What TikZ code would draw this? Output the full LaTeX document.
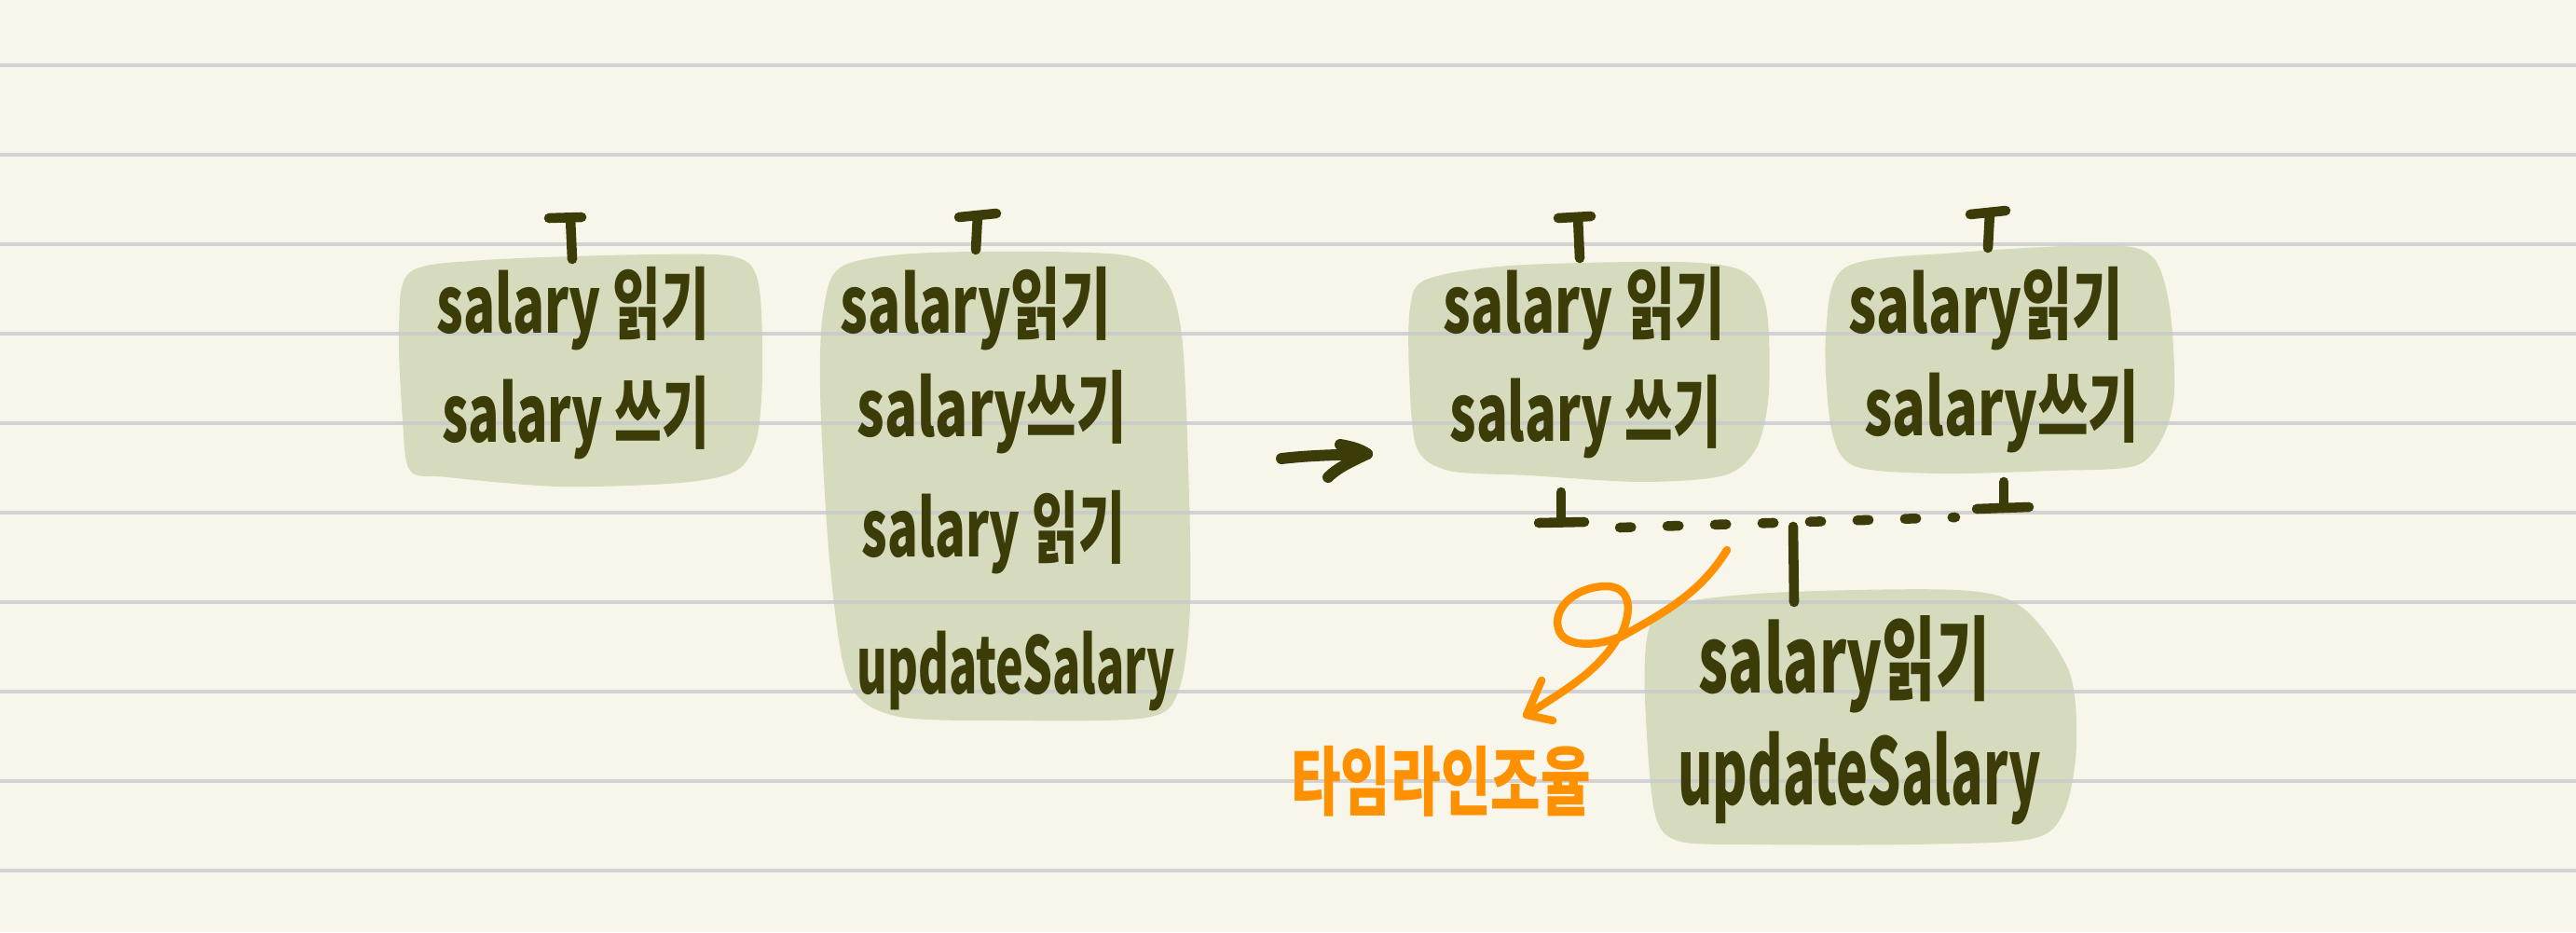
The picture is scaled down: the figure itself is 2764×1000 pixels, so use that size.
\documentclass[tikz,border=0pt]{standalone}
\usepackage{fontspec}
\usepackage{graphicx}
\setmainfont{Noto Sans CJK KR}
\definecolor{paper}{HTML}{F8F6EA}
\definecolor{rulecol}{HTML}{C7C7CB}
\definecolor{blob}{HTML}{D5DBBC}
\definecolor{ink}{HTML}{3C3C08}
\definecolor{hl}{HTML}{FF9100}
\newcommand\hw[2]{\resizebox{#1}{\height}{#2}}
\begin{document}
\begin{tikzpicture}[x=0.01cm,y=-0.01cm,
  blobfill/.style={fill=blob},
  ruleline/.style={draw=rulecol, line width=1.1pt, opacity=0.75},
  inkline/.style={draw=ink, line width=3pt, line cap=round, line join=round},
  hlline/.style={draw=hl, line width=2.4pt, line cap=round, line join=round},
  hwtext/.style={text=ink, inner sep=0pt, anchor=base, font=\bfseries\fontsize{24}{28}\selectfont},
  hwbig/.style={hwtext, font=\bfseries\fontsize{28}{32}\selectfont},
  hwnote/.style={text=hl, inner sep=0pt, font=\bfseries\fontsize{23}{27}\selectfont}]
\fill[paper] (0,0) rectangle (2764,1000);
\useasboundingbox (0,0) rectangle (2764,1000);

% blobs
\fill[blobfill] plot[smooth cycle, tension=0.5] coordinates {(440,292) (520,279) (700,273) (790,276) (814,305) (818,400) (812,470) (790,505) (730,518) (600,522) (480,512) (440,505) (432,450) (428,350)};
\fill[blobfill] plot[smooth cycle, tension=0.5] coordinates {(905,285) (1000,271) (1200,273) (1250,300) (1268,360) (1275,500) (1277,650) (1265,740) (1230,770) (1080,773) (960,768) (910,730) (890,600) (880,420) (884,330)};
\fill[blobfill] plot[smooth cycle, tension=0.5] coordinates {(1530,300) (1620,285) (1800,281) (1870,291) (1895,330) (1898,420) (1885,480) (1850,510) (1760,517) (1640,510) (1555,505) (1520,480) (1512,400) (1513,330)};
\fill[blobfill] plot[smooth cycle, tension=0.5] coordinates {(1980,287) (2100,271) (2260,263) (2310,276) (2328,330) (2333,420) (2320,470) (2290,500) (2200,505) (2080,508) (1990,500) (1965,460) (1959,360)};
\fill[blobfill] plot[smooth cycle, tension=0.5] coordinates {(1790,650) (1900,636) (2100,633) (2170,652) (2220,720) (2228,800) (2215,870) (2180,900) (2050,906) (1880,906) (1800,902) (1775,870) (1765,750) (1768,680)};

% ruled paper lines
\foreach \yy in {70,166,...,934} \draw[ruleline] (0,\yy) -- (2764,\yy);

% texts
\node[hwtext] (b1a) at (615,357) {\hw{2.93cm}{salary 읽기}};
\node[hwtext] (b1b) at (618,474) {\hw{2.87cm}{salary 쓰기}};
\node[hwtext] (b2a) at (1047,357) {\hw{2.90cm}{salary읽기}};
\node[hwtext] (b2b) at (1064,468) {\hw{2.89cm}{salary쓰기}};
\node[hwtext] (b2c) at (1066,597) {\hw{2.82cm}{salary 읽기}};
\node[hwtext] (b2d) at (1090,744) {\hw{3.41cm}{updateSalary}};
\node[hwtext] (b3a) at (1700,357) {\hw{3.02cm}{salary 읽기}};
\node[hwtext] (b3b) at (1701,473) {\hw{2.91cm}{salary 쓰기}};
\node[hwtext] (b4a) at (2131,357) {\hw{2.95cm}{salary읽기}};
\node[hwtext] (b4b) at (2148,467) {\hw{2.95cm}{salary쓰기}};
\node[hwbig] (b5a) at (1979,743) {\hw{3.12cm}{salary읽기}};
\node[hwbig] (b5b) at (1995,863) {\hw{3.89cm}{updateSalary}};
\node[hwnote] (note) at (1546,838) {\hw{3.21cm}{타임라인조율}};

% lifeline tops
\coordinate (t1l) at (589,234); \coordinate (t1r) at (624,233);
\coordinate (t1s) at (612,234); \coordinate (t1e) at (614,278);
\draw[inkline] (t1l) -- (t1r); \draw[inkline] (t1s) -- (t1e);
\coordinate (t2l) at (1029,233); \coordinate (t2r) at (1069,229);
\coordinate (t2s) at (1049,231); \coordinate (t2e) at (1047,268);
\draw[inkline] (t2l) -- (t2r); \draw[inkline] (t2s) -- (t2e);
\coordinate (t3l) at (1672,234); \coordinate (t3r) at (1707,232);
\coordinate (t3s) at (1693,233); \coordinate (t3e) at (1695,277);
\draw[inkline] (t3l) -- (t3r); \draw[inkline] (t3s) -- (t3e);
\coordinate (t4l) at (2114,230); \coordinate (t4r) at (2152,226);
\coordinate (t4s) at (2135,228); \coordinate (t4e) at (2133,266);
\draw[inkline] (t4l) -- (t4r); \draw[inkline] (t4s) -- (t4e);

% lifeline bottoms
\coordinate (u3s) at (1675,528); \coordinate (u3e) at (1675,560);
\coordinate (u3l) at (1651,561); \coordinate (u3r) at (1700,560);
\draw[inkline] (u3s) -- (u3e); \draw[inkline] (u3l) -- (u3r);
\coordinate (u4s) at (2150,517); \coordinate (u4e) at (2150,545);
\coordinate (u4l) at (2121,546); \coordinate (u4r) at (2177,544);
\draw[inkline] (u4s) -- (u4e); \draw[inkline] (u4l) -- (u4r);

% merge dashed line and stem
\coordinate (dA) at (1738,566); \coordinate (dB) at (2098,555);
\draw[inkline, dash pattern=on 3.5pt off 11pt] (dA) -- (dB);
\coordinate (junc) at (1924,565); \coordinate (jend) at (1925,646);
\draw[inkline] (junc) -- (jend);

% transition arrow
\coordinate (a0) at (1375,492); \coordinate (a1) at (1467,487);
\coordinate (ah1) at (1438,477); \coordinate (ah2) at (1425,512);
\draw[inkline, line width=3.4pt] (a0) .. controls (1410,488) and (1440,488) .. (a1);
\draw[inkline, line width=3.4pt] (ah1) .. controls (1450,479) and (1460,482) .. (a1) .. controls (1450,495) and (1435,502) .. (ah2);

% orange annotation arrow
\coordinate (o0) at (1853,590); \coordinate (ox) at (1738,684);
\coordinate (otip) at (1638,767);
\coordinate (ob1) at (1654,730); \coordinate (ob2) at (1666,773);
\draw[hlline] (o0) .. controls (1825,635) and (1790,655) .. (ox)
  .. controls (1754,652) and (1748,628) .. (1722,629)
  .. controls (1688,630) and (1664,655) .. (1673,677)
  .. controls (1680,695) and (1714,693) .. (1736,684)
  .. controls (1715,720) and (1680,740) .. (otip);
\draw[hlline] (ob1) -- (otip) -- (ob2);
\end{tikzpicture}
\end{document}
